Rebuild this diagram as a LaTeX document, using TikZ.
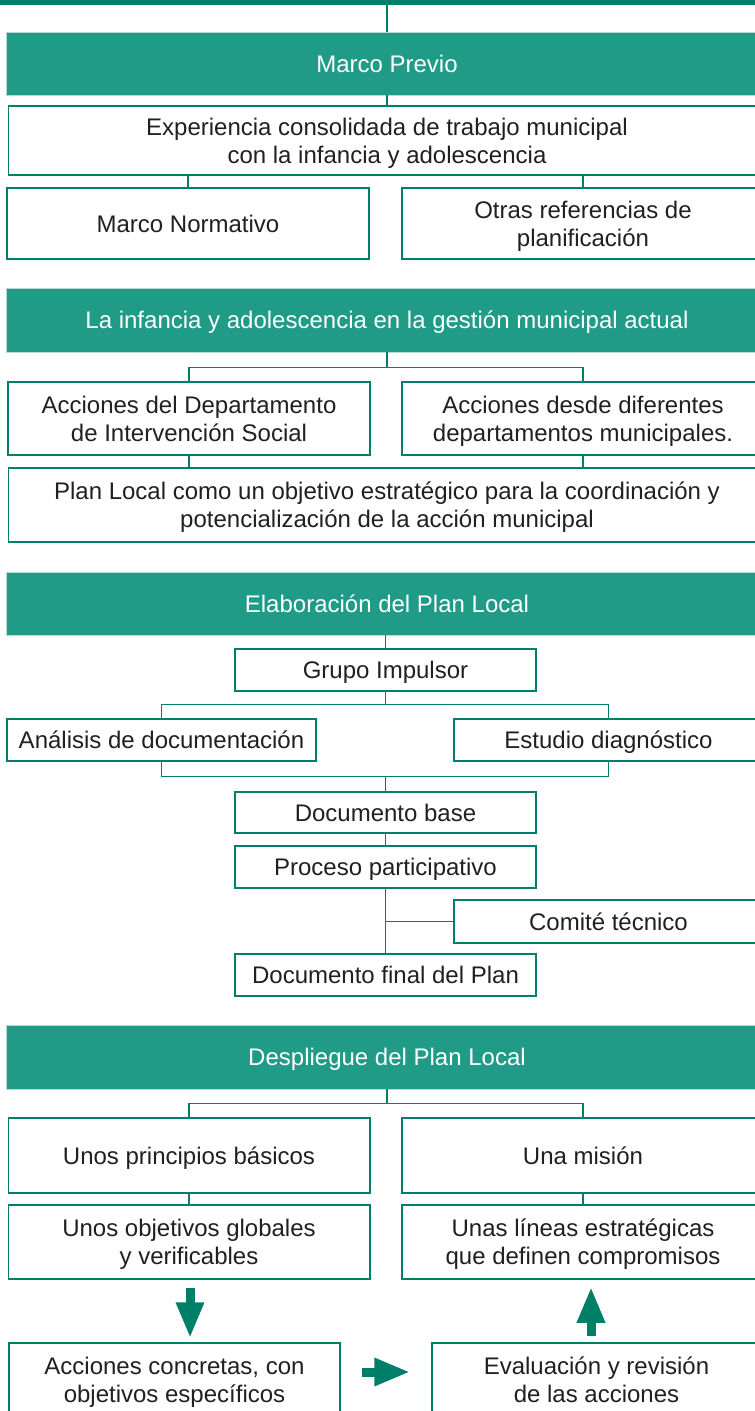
\documentclass[tikz,border=0pt]{standalone}
\usepackage{fontspec}
\setmainfont{Liberation Sans}
\usetikzlibrary{arrows.meta}
\definecolor{barfill}{HTML}{1F9B88}
\definecolor{bardark}{HTML}{007F68}
\definecolor{edge}{HTML}{00806A}
\definecolor{barline}{HTML}{B4DCD2}
\definecolor{txt}{HTML}{231F20}
\tikzset{
  x=1pt, y=-1pt,
  box/.style={draw=edge, line width=1.5pt, fill=white, inner sep=0pt, align=center,
    text=txt, font=\fontsize{24}{28}\selectfont, text depth=0pt},
  hbar/.style={draw=barline, line width=0.8pt, fill=barfill, inner sep=0pt, align=center,
    text=white, font=\fontsize{24}{28}\selectfont, text depth=0pt, text height=17pt},
  oneline/.style={text height=17pt},
  conn/.style={draw=edge, line width=1.3pt},
  bigarrow/.style={draw=bardark, line width=9pt, -{Triangle[width=26pt,length=36pt]}},
}
\begin{document}
\begin{tikzpicture}
\useasboundingbox (0,0) rectangle (755,1411);
\clip (0,0) rectangle (755,1411);
% top strip
\node[fill=bardark, inner sep=0pt, minimum width=790pt, minimum height=4.5pt] (topbar) at (387,2.25) {};
% section 1
\node[hbar, minimum width=761pt, minimum height=63pt] (mp) at (387,63.5) {Marco Previo};
\node[box, minimum width=757pt, minimum height=69pt] (exp) at (387,140.5) {Experiencia consolidada de trabajo municipal\\con la infancia y adolescencia};
\node[box, oneline, minimum width=362pt, minimum height=71pt] (mn) at (188,223.5) {Marco Normativo};
\node[box, minimum width=362pt, minimum height=71pt] (otras) at (583,223.5) {Otras referencias de\\planificación};
% section 2
\node[hbar, minimum width=761pt, minimum height=64pt] (bar2) at (387,320) {La infancia y adolescencia en la gestión municipal actual};
\node[box, minimum width=362pt, minimum height=73pt] (acc1) at (189,418.5) {Acciones del Departamento\\de Intervención Social};
\node[box, minimum width=362pt, minimum height=73pt] (acc2) at (583,418.5) {Acciones desde diferentes\\departamentos municipales.};
\node[box, minimum width=757pt, minimum height=74pt] (plan) at (387,505) {Plan Local como un objetivo estratégico para la coordinación y\\potencialización de la acción municipal};
% section 3
\node[hbar, minimum width=761pt, minimum height=63pt] (bar3) at (387,603.5) {Elaboración del Plan Local};
\node[box, oneline, minimum width=301pt, minimum height=42pt] (grupo) at (385.5,670) {Grupo Impulsor};
\node[box, oneline, minimum width=309pt, minimum height=42pt] (analisis) at (161.5,740) {Análisis de documentación};
\node[box, oneline, minimum width=309pt, minimum height=42pt] (estudio) at (608.5,740) {Estudio diagnóstico};
\node[box, oneline, minimum width=301pt, minimum height=41pt] (docbase) at (385.5,812.5) {Documento base};
\node[box, oneline, minimum width=301pt, minimum height=42pt] (proceso) at (385.5,867) {Proceso participativo};
\node[box, oneline, minimum width=309pt, minimum height=43pt] (comite) at (608.5,921.5) {Comité técnico};
\node[box, oneline, minimum width=301pt, minimum height=42pt] (docfinal) at (385.5,975) {Documento final del Plan};
% section 4
\node[hbar, minimum width=761pt, minimum height=64pt] (bar4) at (387,1057) {Despliegue del Plan Local};
\node[box, oneline, minimum width=361.5pt, minimum height=75pt] (princ) at (189,1155.5) {Unos principios básicos};
\node[box, oneline, minimum width=362pt, minimum height=75pt] (mision) at (583,1155.5) {Una misión};
\node[box, minimum width=361.5pt, minimum height=74pt] (obj) at (189,1242) {Unos objetivos globales\\y verificables};
\node[box, minimum width=362pt, minimum height=74pt] (lineas) at (583,1242) {Unas líneas estratégicas\\que definen compromisos};
\node[box, minimum width=331pt, minimum height=74pt] (accc) at (174.5,1380) {Acciones concretas, con\\objetivos específicos};
\node[box, minimum width=329pt, minimum height=74pt] (eval) at (596.5,1380) {Evaluación y revisión\\de las acciones};
% connectors section 1
\draw[conn] (topbar.south -| mp.north) -- (mp.north);
\draw[conn] (mp.south) -- (exp.north);
\draw[conn] (mn.north) -- (mn.north |- exp.south);
\draw[conn] (otras.north) -- (otras.north |- exp.south);
% connectors section 2
\path (bar2.south) ++(0,15) coordinate (j2);
\draw[conn] (bar2.south) -- (j2);
\draw[conn] (acc1.north) |- (j2) -| (acc2.north);
\draw[conn] (acc1.south) -- (acc1.south |- plan.north);
\draw[conn] (acc2.south) -- (acc2.south |- plan.north);
% connectors section 3
\draw[conn] (grupo.north) -- (grupo.north |- bar3.south);
\path (grupo.south) ++(0,13) coordinate (j3);
\draw[conn] (grupo.south) -- (j3);
\draw[conn] (analisis.north) |- (j3) -| (estudio.north);
\path (docbase.north) ++(0,-15) coordinate (j4);
\draw[conn] (analisis.south) |- (j4) -| (estudio.south);
\draw[conn] (j4) -- (docbase.north);
\draw[conn] (docbase.south) -- (proceso.north);
\draw[conn] (proceso.south) -- (docfinal.north);
\draw[conn] (comite.west) -- (comite.west -| proceso.south);
% connectors section 4
\path (bar4.south) ++(0,14) coordinate (j5);
\draw[conn] (bar4.south) -- (j5);
\draw[conn] (princ.north) |- (j5) -| (mision.north);
\draw[conn] (princ.south) -- (obj.north);
\draw[conn] (mision.south) -- (lineas.north);
% big arrows
\draw[bigarrow, shorten <=8pt, shorten >=4pt] ([xshift=1pt]obj.south) -- ([xshift=1pt]obj.south |- accc.north);
\draw[bigarrow, shorten <=21pt, shorten >=21pt] ([yshift=8pt]accc.east) -- ([yshift=8pt]accc.east -| eval.west);
\draw[bigarrow, shorten <=6pt, shorten >=7pt] ([xshift=-5.5pt]eval.north) -- ([xshift=-5.5pt]eval.north |- lineas.south);
\end{tikzpicture}
\end{document}
